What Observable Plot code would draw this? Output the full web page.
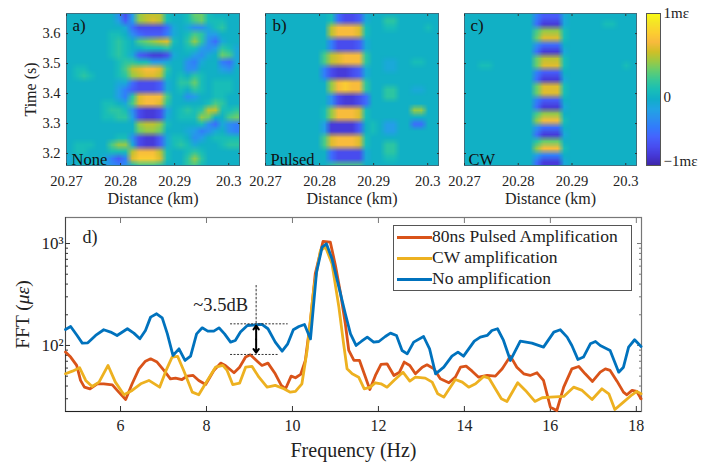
<!DOCTYPE html>
<html><head><meta charset="utf-8">
<script src="https://cdn.jsdelivr.net/npm/d3@7"></script>
<script src="https://cdn.jsdelivr.net/npm/@observablehq/plot@0.6"></script>
<style>
html,body{margin:0;padding:0;background:#fff}
#page{position:relative;width:712px;height:466px;overflow:hidden;font-family:"Liberation Serif",serif;color:#222}
#page svg{position:absolute;overflow:visible;background:transparent}
#legend{position:absolute;left:393px;top:225px;width:237px;height:64px;border:1.2px solid #555;background:#fff;font-size:17.5px;line-height:21px;box-sizing:content-box}
#legend div{position:absolute;left:38px;white-space:nowrap}
#legend i{position:absolute;left:3px;width:35px;height:2.6px}
</style></head><body><div id="page"></div>
<script>
// Strain maps: rows run from the top (late time) to the bottom, values in 0.1 m-strain colour units
const panelCols = 25;
const mapNone = [
[0,0,0,0,0,0,0,-3,-7,-2,5,6,6,6,1,0,0,1,4,4,1,0,0,0,0],
[0,0,0,0,0,0,0,-2,-6,-2,5,6,7,6,1,0,0,1,3,4,1,1,1,0,0],
[0,0,0,0,0,0,0,0,-1,-5,-7,-7,-7,-7,-5,-1,0,-1,-3,-3,-1,1,2,0,0],
[0,0,0,0,0,0,1,1,0,-3,-5,-6,-6,-6,-4,-1,0,1,3,2,-2,-2,0,0,0],
[0,0,0,0,0,0,1,2,1,0,3,4,5,6,7,1,0,2,5,2,-3,-5,-1,0,0],
[0,0,0,0,0,0,1,2,1,0,0,1,1,1,2,0,0,1,1,-2,-3,-2,2,1,-1],
[0,0,0,0,0,0,1,2,1,-1,-6,-7,-8,-8,-7,-1,0,0,-2,-3,-1,0,4,3,-1],
[0,0,0,0,0,0,0,1,2,2,1,1,-2,-2,-1,0,0,-3,-4,-1,0,0,-4,-5,-1],
[0,1,1,0,0,0,0,1,3,6,7,8,8,7,2,0,0,-3,-3,0,0,0,-2,-3,0],
[0,1,2,1,0,0,0,1,2,5,6,7,7,6,1,0,1,0,2,1,0,0,0,0,0],
[0,0,0,0,0,0,0,-1,-1,-5,-7,-7,-7,-6,-1,0,2,2,4,1,0,1,1,1,0],
[0,0,0,0,0,0,0,-2,-4,-6,-7,-7,-7,-6,-1,0,1,0,2,1,0,1,1,1,0],
[0,0,0,0,0,0,0,-2,-4,2,7,8,8,8,3,0,0,-3,-2,0,0,1,1,0,0],
[0,0,0,0,0,1,1,0,-1,3,7,8,8,7,2,0,0,0,0,0,1,3,2,0,0],
[0,0,0,0,0,1,2,2,1,-3,-7,-8,-8,-7,-2,0,1,2,1,2,6,6,1,1,2],
[0,0,0,0,0,1,1,2,2,-2,-7,-8,-8,-7,-1,0,1,1,1,5,4,0,0,3,4],
[0,0,0,0,0,0,0,0,0,0,5,6,6,5,1,0,0,0,0,1,-3,-5,-1,-3,-4],
[0,0,0,0,0,0,0,0,0,0,4,5,5,4,0,0,0,-1,-2,-4,-3,-1,0,-3,-4],
[0,0,0,0,0,0,0,1,1,-3,-7,-8,-8,-6,-1,1,1,0,-3,-2,0,1,1,1,1],
[0,1,1,1,0,0,3,5,5,-1,-7,-8,-8,-6,-1,1,2,1,-1,0,0,0,1,2,2],
[0,1,1,0,0,0,1,1,1,6,8,8,8,6,1,0,0,1,2,1,0,0,0,0,0],
[-1,0,0,0,0,-1,-4,-6,-4,7,9,9,9,7,1,0,0,2,5,2,0,0,0,0,0],
[0,0,0,0,0,-1,-3,-4,-3,1,3,3,3,2,0,0,0,2,3,1,0,0,0,0,0]
];
const mapPulsed = [
[0,0,0,0,0,0,0,0,0,1,-5,-7,-7,-6,-1,0,0,0,0,0,0,0,0,0,0],
[0,0,0,0,0,0,0,0,0,1,-5,-7,-7,-6,-1,0,0,2,2,0,0,0,0,0,0],
[0,0,0,0,0,0,0,0,0,6,8,8,8,7,1,0,0,1,1,0,0,0,0,1,0],
[0,0,0,0,0,0,0,0,0,6,8,8,8,7,1,0,0,0,0,0,0,0,0,0,0],
[0,0,0,0,0,0,0,0,0,-4,-7,-7,-7,-6,-1,0,0,0,0,0,0,0,0,0,0],
[0,0,0,0,0,0,0,0,0,-4,-7,-7,-7,-6,-1,0,0,0,0,0,0,0,0,0,0],
[0,0,0,0,0,0,0,0,3,6,7,8,8,8,2,0,0,0,0,0,0,0,0,0,0],
[0,0,0,0,0,0,0,0,3,6,7,8,8,8,2,0,0,-1,-1,0,0,1,1,0,0],
[0,0,0,0,0,0,0,0,-4,-7,-8,-8,-7,-6,-1,0,0,-1,-1,0,0,0,0,0,0],
[0,0,0,0,0,0,0,0,-4,-7,-8,-8,-7,-6,-1,0,0,0,0,0,0,0,0,0,0],
[0,0,0,0,0,0,0,0,0,5,8,9,8,8,2,0,0,0,0,0,0,0,0,0,0],
[0,0,0,0,0,0,0,0,0,5,8,9,8,8,2,0,0,2,2,0,0,-1,-1,0,0],
[0,0,0,0,0,0,0,0,0,-3,-7,-8,-8,-7,-5,0,0,2,2,0,0,0,0,0,0],
[0,0,0,0,0,0,0,0,0,-3,-7,-8,-8,-7,-5,0,0,0,0,0,0,0,0,0,0],
[0,0,0,0,0,0,0,0,1,5,8,8,8,7,1,0,0,0,0,0,0,5,5,0,0],
[0,0,0,0,0,0,0,0,1,5,8,8,8,7,1,0,0,0,0,0,0,0,0,0,0],
[0,0,0,0,0,0,0,0,-2,-8,-8,-8,-8,-6,0,1,0,-2,-2,0,0,-5,-5,0,0],
[0,0,0,0,0,0,0,0,-2,-8,-8,-8,-8,-6,0,1,0,-2,-2,0,0,0,0,0,0],
[0,0,0,0,0,0,0,0,3,7,8,8,8,7,1,0,0,0,0,0,0,0,0,0,0],
[0,0,0,0,0,0,0,0,3,7,8,8,8,7,1,0,0,2,2,0,0,0,0,0,0],
[0,0,0,0,0,0,0,0,0,-5,-7,-7,-7,-7,-1,0,0,2,2,0,0,0,0,0,0],
[0,0,0,0,0,0,0,0,0,-5,-7,-7,-7,-7,-1,0,0,1,1,0,0,0,0,0,0],
[0,0,0,0,0,0,0,0,0,2,3,3,3,3,0,0,0,0,0,0,0,0,0,0,0]
];
const mapCW = [
[0,0,0,0,0,0,0,0,0,0,-4,-6,-6,-6,-1,0,0,0,0,0,0,0,0,0,0],
[0,0,0,0,0,0,0,0,0,0,-5,-8,-8,-8,-1,0,0,0,0,0,1,1,0,0,0],
[0,0,0,0,0,0,0,0,0,0,3,5,5,5,1,0,0,0,0,0,0,0,0,0,0],
[0,0,0,0,0,0,0,0,0,0,4,7,7,7,1,0,0,0,0,0,0,0,0,0,0],
[0,0,0,0,0,0,0,0,0,0,-3,-5,-5,-5,0,0,0,0,0,0,0,0,0,0,0],
[0,0,0,0,0,0,0,0,0,0,-5,-8,-8,-8,-1,0,0,0,0,0,0,0,0,0,0],
[0,0,0,0,0,0,0,0,0,0,4,6,6,6,1,0,0,0,0,0,0,0,0,0,0],
[0,0,1,1,0,0,0,0,0,0,4,7,7,7,1,0,0,0,0,0,0,0,0,1,0],
[0,0,0,0,0,0,0,0,0,0,-4,-6,-6,-6,0,0,0,0,0,0,0,0,0,0,0],
[0,0,0,0,0,0,0,0,0,0,-5,-8,-8,-8,-1,0,0,0,0,0,0,0,0,0,0],
[0,0,0,0,0,0,0,0,0,0,4,7,7,7,1,0,0,0,0,0,0,0,0,0,0],
[0,0,0,0,0,0,0,0,0,0,4,7,7,7,1,0,0,0,0,0,0,0,0,0,0],
[0,0,0,0,0,0,0,0,0,0,-4,-6,-6,-6,0,0,0,0,0,0,0,0,0,0,0],
[0,0,0,0,0,0,0,0,0,0,-5,-8,-8,-8,-1,0,0,0,0,0,0,0,0,0,0],
[0,0,0,0,0,0,0,0,0,0,3,5,5,5,0,0,0,0,0,0,0,0,0,0,0],
[0,0,0,0,0,0,0,0,0,0,5,8,8,8,1,0,0,0,0,0,0,0,0,0,0],
[0,0,0,0,0,0,0,0,0,0,-3,-5,-5,-5,0,0,0,0,0,0,0,0,0,0,0],
[0,0,0,0,0,0,0,0,0,0,-5,-8,-8,-8,-1,0,0,0,0,0,0,0,0,0,0],
[0,0,0,0,0,0,0,0,0,0,2,4,4,4,0,0,0,0,0,0,0,0,0,0,0],
[0,0,0,0,0,0,0,0,0,0,5,8,8,8,1,0,0,0,0,0,0,0,0,0,0],
[0,0,0,0,0,0,0,0,0,0,-2,-4,-4,-4,0,0,0,0,0,0,0,0,0,0,0],
[0,0,0,0,0,0,0,0,0,0,-5,-8,-8,-8,-1,0,0,0,0,0,0,0,0,0,0]
];
const panelNames = ["None", "Pulsed", "CW"];
const panelLetters = ["a)", "b)", "c)"];
const distanceTicks = [20.27, 20.28, 20.29, 20.3];
const timeTicks = [3.2, 3.3, 3.4, 3.5, 3.6];
const colourDomain = [-9.6, 11.9];
const colourTicks = [11.9, 0, -9];
const colourLabels = ["1m\u03b5", "0", "\u22121m\u03b5"];
const parula = ["#3e26a8","#4537d5","#484df0","#4563fd","#327bfc","#2b91ef","#20a5e3","#10aec8","#19bfb6","#37c897","#64cd6f","#9dc943","#d1bf27","#f8ba3d","#fccf30","#f5e327","#f9fb14"];

// FFT spectra: frequency (Hz) and log10 amplitude (micro-strain)
const blueF = [4.72,4.84,4.99,5.11,5.24,5.42,5.61,5.77,5.92,6.16,6.31,6.45,6.58,6.70,6.84,6.97,7.09,7.22,7.36,7.50,7.63,7.77,7.90,8.03,8.17,8.29,8.42,8.56,8.67,8.79,8.95,9.18,9.29,9.43,9.60,9.76,9.89,10.02,10.15,10.28,10.42,10.56,10.69,10.79,10.92,11.08,11.23,11.35,11.48,11.60,11.74,11.89,12.01,12.16,12.28,12.42,12.55,12.67,12.82,13.05,13.19,13.33,13.52,13.71,13.85,13.98,14.23,14.37,14.53,14.64,14.77,14.91,15.07,15.30,15.57,15.84,16.08,16.23,16.39,16.50,16.64,16.77,16.93,17.05,17.16,17.39,17.59,17.70,17.82,17.96,18.11];
const blueL = [2.157,2.186,2.098,2.023,2.026,2.098,2.154,2.131,2.098,2.164,2.121,2.065,2.147,2.278,2.311,2.271,2.114,1.902,1.967,1.853,1.895,2.114,2.173,2.141,2.141,2.173,2.114,2.033,2.049,2.131,2.196,2.203,2.206,2.164,2.033,1.944,2.016,2.154,2.186,2.206,2.065,2.719,2.965,2.997,2.850,2.572,2.311,2.114,2.000,2.039,2.082,2.033,2.039,2.088,2.121,2.098,1.951,1.918,2.033,2.088,1.967,1.722,1.787,1.895,1.935,1.895,2.043,2.082,2.098,2.147,2.164,2.049,1.853,2.043,2.023,1.984,2.131,2.154,2.082,2.000,1.863,1.886,2.016,2.039,2.000,1.951,1.738,1.787,1.984,2.056,1.990];
const orangeF = [4.72,4.84,4.98,5.07,5.16,5.29,5.46,5.61,5.81,5.96,6.12,6.27,6.43,6.58,6.70,6.85,7.01,7.16,7.28,7.43,7.55,7.69,7.82,7.98,8.17,8.33,8.44,8.64,8.77,8.91,9.02,9.18,9.29,9.43,9.60,9.74,9.84,9.97,10.07,10.19,10.30,10.42,10.53,10.71,10.88,11.00,11.12,11.23,11.31,11.43,11.56,11.67,11.80,11.93,12.06,12.20,12.36,12.49,12.60,12.73,12.86,13.02,13.13,13.29,13.44,13.64,13.79,13.91,14.04,14.18,14.33,14.53,14.72,14.88,15.07,15.22,15.38,15.53,15.69,15.84,16.00,16.15,16.31,16.50,16.66,16.81,16.98,17.16,17.28,17.39,17.55,17.70,17.78,17.90,18.01,18.11];
const orangeL = [1.935,1.886,1.804,1.657,1.591,1.575,1.624,1.624,1.614,1.542,1.470,1.624,1.771,1.846,1.869,1.837,1.755,1.673,1.680,1.666,1.699,1.706,1.657,1.617,1.755,1.827,1.804,1.732,1.787,1.886,1.908,1.846,1.804,1.827,1.722,1.608,1.575,1.699,1.683,1.716,1.853,2.245,2.703,3.020,3.014,2.785,2.507,2.213,1.951,1.853,1.853,1.722,1.568,1.706,1.814,1.820,1.706,1.738,1.837,1.804,1.722,1.787,1.810,1.771,1.673,1.634,1.689,1.787,1.797,1.748,1.689,1.706,1.699,1.771,1.895,1.787,1.722,1.706,1.732,1.657,1.395,1.362,1.591,1.771,1.794,1.722,1.647,1.738,1.771,1.755,1.650,1.542,1.516,1.559,1.549,1.477];
const yellowF = [4.72,4.88,5.05,5.19,5.34,5.50,5.71,5.88,6.08,6.27,6.47,6.66,6.91,7.06,7.20,7.33,7.47,7.67,7.82,8.02,8.21,8.38,8.48,8.61,8.77,8.91,9.06,9.22,9.41,9.60,9.80,9.95,10.07,10.22,10.34,10.50,10.65,10.77,10.92,11.08,11.19,11.27,11.39,11.54,11.67,11.81,11.93,12.06,12.20,12.36,12.57,12.73,12.86,13.09,13.25,13.38,13.52,13.79,13.95,14.10,14.26,14.45,14.57,14.72,14.86,14.99,15.24,15.42,15.64,15.81,16.00,16.31,16.54,16.74,16.97,17.20,17.36,17.50,17.70,17.90,18.01,18.11];
const yellowL = [1.722,1.748,1.781,1.657,1.598,1.640,1.804,1.640,1.516,1.559,1.624,1.657,1.591,1.755,1.886,1.892,1.755,1.542,1.516,1.657,1.787,1.804,1.755,1.617,1.630,1.787,1.794,1.689,1.591,1.608,1.575,1.542,1.549,1.624,1.951,2.572,2.932,2.965,2.801,2.376,2.016,1.771,1.722,1.689,1.575,1.591,1.634,1.624,1.591,1.657,1.738,1.650,1.689,1.680,1.640,1.526,1.493,1.666,1.640,1.591,1.624,1.696,1.680,1.575,1.477,1.451,1.634,1.559,1.451,1.487,1.493,1.500,1.591,1.559,1.470,1.575,1.526,1.372,1.444,1.516,1.549,1.526];
const seriesColours = {orange:"#d95319", yellow:"#edb120", blue:"#0072bd"};
const legendLabels = ["80ns Pulsed Amplification", "CW amplification", "No amplification"];
const freqTicks = [6, 8, 10, 12, 14, 16, 18];
const fftMajor = [100, 1000];
const fftMajorLabels = ["10\u00b2", "10\u00b3"];
const fftMinor = [30,40,50,60,70,80,90,200,300,400,500,600,700,800,900];
const noteFreq = 9.155, notePulsed = 81.6, noteNone = 163, noteMid = 115, noteTop = 387;

const page = document.getElementById("page");
const FONT = "Liberation Serif";
const colourScale = {type:"linear", domain:colourDomain, interpolate:d3.piecewise(d3.interpolateRgb, parula)};
const tone = "#333", soft = "#777";

function place(svg, left, top){ svg.style.left = left+"px"; svg.style.top = top+"px"; page.appendChild(svg); return svg; }

const X0 = 20.27, X1 = 20.302, Y0 = 3.16, Y1 = 3.667;
function heatPanel(rows, i, cfg){
  const hasY = i === 0;
  return place(Plot.plot({
    width:cfg.w, height:200, marginLeft:cfg.ml, marginRight:cfg.mr, marginTop:13, marginBottom:35,
    style:{fontFamily:FONT, overflow:"visible", background:"transparent"},
    x:{domain:[X0,X1]}, y:{domain:[Y0,Y1]}, color:colourScale,
    marks:[
      Plot.raster(rows.flat(), {width:panelCols, height:rows.length, x1:X0, x2:X1, y1:cfg.top, y2:cfg.bottom, clip:true}),
      Plot.frame({stroke:"#3d6f80", strokeWidth:1}),
      Plot.axisX({ticks:distanceTicks, tickFormat:d=>String(d), tickSize:-2, tickPadding:12, fontSize:14.5, label:null, stroke:tone, fill:"#222"}),
      Plot.axisX({anchor:"top", ticks:distanceTicks, tickSize:-2, fill:"none", label:null, stroke:tone}),
      hasY ? Plot.axisY({ticks:timeTicks, tickFormat:d=>d.toFixed(1), tickSize:-2, tickPadding:8, fontSize:14.5, label:null, stroke:tone, fill:"#222"}) : null,
      !hasY ? Plot.axisY({ticks:timeTicks, tickSize:-2, fill:"none", label:null, stroke:tone}) : null,
      Plot.axisY({anchor:"right", ticks:timeTicks, tickSize:-2, fill:"none", label:null, stroke:tone}),
      Plot.text([panelLetters[i]], {frameAnchor:"top-left", dx:cfg.ldx, dy:5, fontSize:17, fill:"#111", lineAnchor:"top", textAnchor:"start"}),
      Plot.text([panelNames[i]], {frameAnchor:"bottom-left", dx:cfg.ndx, dy:-1, fontSize:16.5, fill:"#111", lineAnchor:"bottom", textAnchor:"start"}),
      Plot.text(["Distance (km)"], {frameAnchor:"bottom", dy:33, fontSize:16, fill:"#222", lineAnchor:"middle"}),
      hasY ? Plot.text(["Time (s)"], {frameAnchor:"left", dx:-36, rotate:-90, fontSize:16, fill:"#222", lineAnchor:"middle", textAnchor:"middle"}) : null
    ]
  }), cfg.left, 0);
}
heatPanel(mapNone, 0, {left:0, w:250, ml:66, mr:11, ldx:6, ndx:5, top:3.678, bottom:3.149});
heatPanel(mapPulsed, 1, {left:245, w:200, ml:20, mr:7, ldx:7, ndx:5, top:3.678, bottom:3.149});
heatPanel(mapCW, 2, {left:445, w:195, ml:19, mr:4, ldx:6, ndx:4, top:Y1, bottom:Y0});

// colour bar
place(Plot.plot({
  width:72, height:200, marginLeft:6, marginRight:52, marginTop:13, marginBottom:35,
  style:{fontFamily:FONT, overflow:"visible", background:"transparent"},
  x:{domain:[0,1], axis:null}, y:{domain:colourDomain}, color:colourScale,
  marks:[
    Plot.raster({x1:0, x2:1, y1:colourDomain[1], y2:colourDomain[0], fill:(x,y)=>y, pixelSize:1}),
    Plot.frame({stroke:"#555", strokeWidth:1}),
    Plot.axisY({anchor:"right", ticks:colourTicks, tickSize:0, tickPadding:3, fontSize:15, label:null, fill:"#222",
      tickFormat:d=>colourLabels[colourTicks.indexOf(d)]})
  ]
}), 640, 0);

// spectra
const toRows = (F,L) => F.map((f,i)=>({f, v:10**L[i]}));
const fftPlot = place(Plot.plot({
  width:712, height:261, marginLeft:65, marginRight:71, marginTop:12, marginBottom:55,
  style:{fontFamily:FONT, overflow:"visible", background:"transparent"},
  x:{domain:[4.72,18.12]}, y:{type:"log", domain:[22.5,1800]},
  marks:[
    Plot.frame({stroke:soft, strokeWidth:1.2}),
    Plot.ruleY([22.5], {stroke:"#222", strokeWidth:1.2}),
    Plot.ruleX([4.72], {stroke:"#444", strokeWidth:1}),
    Plot.axisX({ticks:freqTicks, tickFormat:d=>String(d), tickSize:-5, tickPadding:13, fontSize:16, label:null, stroke:tone, fill:"#222"}),
    Plot.axisX({anchor:"top", ticks:freqTicks, tickSize:-5, fill:"none", label:null, stroke:soft}),
    Plot.axisY({ticks:fftMajor, tickSize:-5, tickPadding:7, fontSize:17, label:null, stroke:tone, fill:"#222",
      tickFormat:d=>fftMajorLabels[fftMajor.indexOf(d)]}),
    Plot.axisY({ticks:fftMinor, tickSize:-3, fill:"none", label:null, stroke:tone}),
    Plot.axisY({anchor:"right", ticks:fftMajor, tickSize:-5, fill:"none", label:null, stroke:soft}),
    Plot.axisY({anchor:"right", ticks:fftMinor, tickSize:-3, fill:"none", label:null, stroke:soft}),
    Plot.line(toRows(orangeF,orangeL), {x:"f", y:"v", stroke:seriesColours.orange, strokeWidth:2.8, strokeLinejoin:"round"}),
    Plot.line(toRows(yellowF,yellowL), {x:"f", y:"v", stroke:seriesColours.yellow, strokeWidth:2.8, strokeLinejoin:"round"}),
    Plot.line(toRows(blueF,blueL), {x:"f", y:"v", stroke:seriesColours.blue, strokeWidth:2.8, strokeLinejoin:"round"}),
    Plot.ruleX([noteFreq], {y1:noteNone, y2:noteTop, stroke:"#333", strokeWidth:1, strokeDasharray:"2.5 1.5"}),
    Plot.ruleY([noteNone], {x1:8.56, x2:9.9, stroke:"#333", strokeWidth:1, strokeDasharray:"2 1.5"}),
    Plot.ruleY([notePulsed], {x1:8.56, x2:9.7, stroke:"#333", strokeWidth:1, strokeDasharray:"2 1.5"}),
    Plot.arrow([0], {x1:noteFreq, x2:noteFreq, y1:noteMid, y2:noteNone*0.96, stroke:"#000", strokeWidth:2, headLength:7, headAngle:70}),
    Plot.arrow([0], {x1:noteFreq, x2:noteFreq, y1:noteMid, y2:notePulsed*1.04, stroke:"#000", strokeWidth:2, headLength:7, headAngle:70}),
    Plot.text(["~3.5dB"], {x:8.33, y:247, fontSize:18.5, fill:"#222"}),
    Plot.text(["d)"], {frameAnchor:"top-left", dx:17, dy:13, fontSize:18, fill:"#222", lineAnchor:"top", textAnchor:"start"}),
    Plot.text(["Frequency (Hz)"], {frameAnchor:"bottom", dy:39, fontSize:20, fill:"#222", lineAnchor:"middle"}),
    Plot.text(["FFT (\u03bc\u03b5)"], {frameAnchor:"left", dx:-43, rotate:-90, fontSize:19.5, fill:"#222", lineAnchor:"middle", textAnchor:"middle"})
  ]
}), 0, 205);
d3.select(fftPlot).selectAll("text").filter(function(){return this.textContent==="FFT (\u03bc\u03b5)";})
  .html('FFT (<tspan font-style="italic">\u03bc\u03b5</tspan>)');

// legend
const legend = document.createElement("div");
legend.id = "legend";
[seriesColours.orange, seriesColours.yellow, seriesColours.blue].forEach((c,i)=>{
  const top = 11 + i*21;
  const swatch = document.createElement("i");
  swatch.style.top = (top-1)+"px"; swatch.style.background = c;
  const label = document.createElement("div");
  label.style.top = (top-11)+"px"; label.textContent = legendLabels[i];
  legend.append(swatch,label);
});
page.appendChild(legend);
</script></body></html>
